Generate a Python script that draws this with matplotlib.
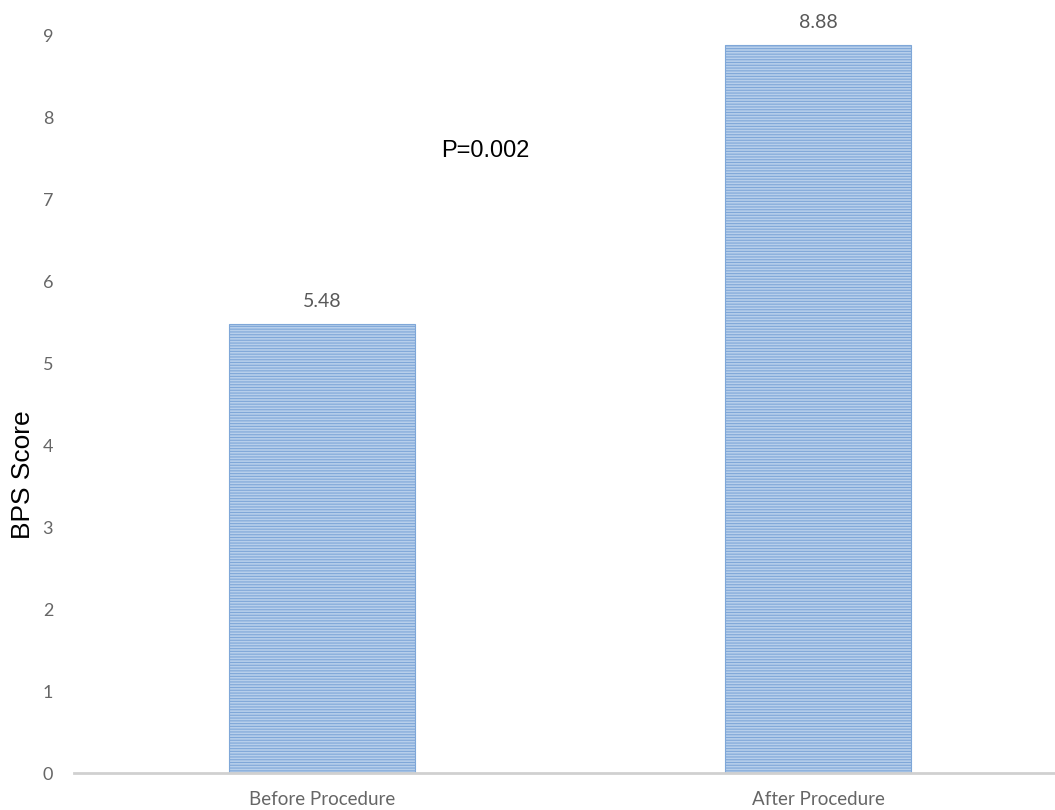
import matplotlib
matplotlib.use('Agg')
import matplotlib.pyplot as plt

# 数据
categories = ['Before Procedure', 'After Procedure']
bps_scores = [5.48, 8.88]
y_ticks = list(range(0, 10))
p_text = 'P=0.002'

plt.rcParams['hatch.linewidth'] = 0.8
plt.rcParams['hatch.color'] = '#6f9bd1'

fig = plt.figure(figsize=(10.55, 8.10), dpi=100)
# 坐标轴延伸到图片右侧边缘之外（原图被裁切）
ax = fig.add_axes([74 / 1055, 37 / 810, (1066 - 74) / 1055, 738 / 810])

x = range(len(categories))
bars = ax.bar(x, bps_scores, width=0.377, color='#b7cfeb', edgecolor='#7fa7d8',
              hatch='------', linewidth=0.8, zorder=2)

ax.set_xlim(-0.5, 1.5)
ax.set_ylim(0, 9)
ax.set_yticks(y_ticks)
ax.set_xticks(list(x))
ax.set_xticklabels(categories, fontfamily='Lato', fontsize=13.5, color='#666666')
for lbl in ax.get_yticklabels():
    lbl.set_fontfamily('Lato')
    lbl.set_fontsize(13)
    lbl.set_color('#666666')
ax.tick_params(axis='both', length=0)
ax.tick_params(axis='y', pad=15)
ax.tick_params(axis='x', pad=13)

for side in ['top', 'right', 'left']:
    ax.spines[side].set_visible(False)
ax.spines['bottom'].set_color('#d0d0d0')
ax.spines['bottom'].set_linewidth(2)

# y轴标题（位置偏下，与原图一致）
fig.text(23 / 1055, 1 - 475 / 810, 'BPS Score', rotation=90, ha='center', va='center',
         fontfamily='Liberation Sans', fontsize=19, color='black')

# 数值标签
for bar, v in zip(bars, bps_scores):
    ax.text(bar.get_x() + bar.get_width() / 2, v + 0.27, f'{v:.2f}', ha='center', va='center',
            fontfamily='Lato', fontsize=14, color='#595959')

ax.text(0.24, 7.58, p_text, ha='left', va='center', fontfamily='Liberation Sans', fontsize=17, color='black')

fig.savefig('out.png', dpi=100)
